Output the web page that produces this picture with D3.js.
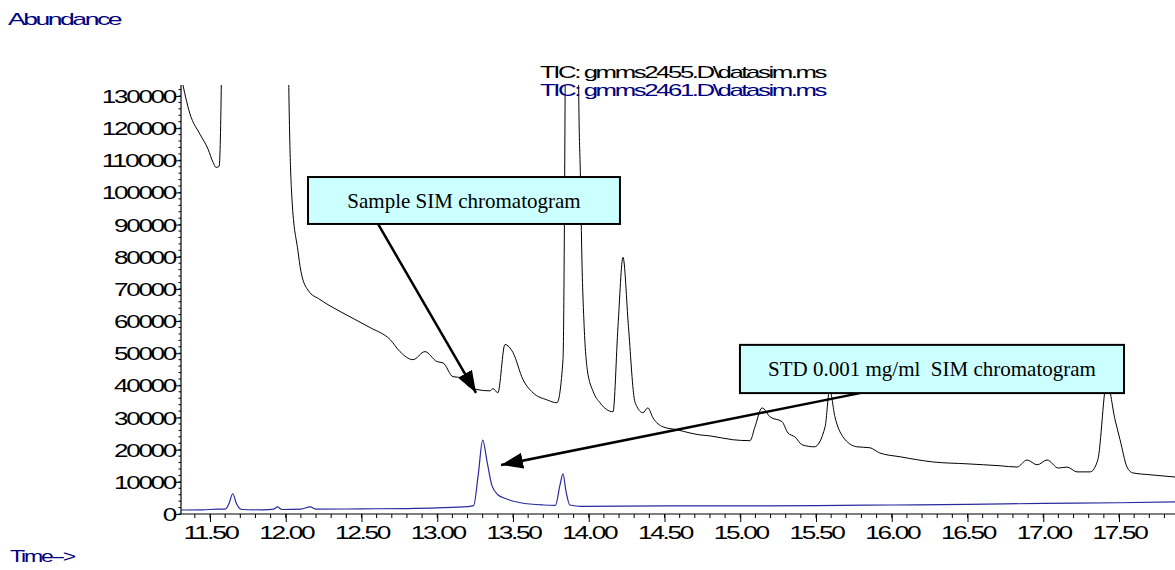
<!DOCTYPE html>
<html>
<head>
<meta charset="utf-8">
<script src="https://cdn.jsdelivr.net/npm/d3@7"></script>
<style>
  html, body { margin: 0; padding: 0; background: #fff; }
  svg { display: block; }
</style>
</head>
<body>
<svg id="chart" width="1175" height="570"></svg>
<script>
// ---------- data ----------
const xMajorTicks = [11.5, 12.0, 12.5, 13.0, 13.5, 14.0, 14.5, 15.0, 15.5, 16.0, 16.5, 17.0, 17.5];
const yMajorTicks = [0, 10000, 20000, 30000, 40000, 50000, 60000, 70000, 80000, 90000, 100000, 110000, 120000, 130000];
const legendLabels = ["TIC: gmms2455.D\\datasim.ms", "TIC: gmms2461.D\\datasim.ms"];

// sample TIC (black), [time (min), abundance]
const sampleSeries = [
  [11.31, 136000], [11.368, 124400], [11.434, 118100], [11.487, 113500], [11.52, 109400],
  [11.54, 107800], [11.56, 108100], [11.575, 135000], [11.59, 420000], [11.8, 900000],
  [12.0, 420000], [12.018, 140000], [12.041, 98000], [12.08, 82000],
  [12.1, 75500], [12.147, 69600], [12.226, 66700], [12.358, 63000], [12.556, 58000],
  [12.69, 54200], [12.754, 50500], [12.84, 48000], [12.919, 50500], [12.998, 47400],
  [13.038, 47000], [13.104, 42700], [13.163, 42400], [13.196, 40200], [13.262, 38700],
  [13.348, 38300], [13.368, 39000], [13.40, 37700], [13.447, 52700], [13.50, 50200],
  [13.566, 41800], [13.632, 37700], [13.724, 35500], [13.79, 34600], [13.83, 48000],
  [13.845, 140000], [13.865, 420000], [13.91, 420000], [13.934, 130000], [13.945, 105000],
  [13.955, 79000], [13.97, 58000], [13.99, 45000], [14.03, 38000], [14.074, 34600],
  [14.16, 31800], [14.193, 58300], [14.226, 79800], [14.262, 58300], [14.30, 36000],
  [14.318, 33400], [14.358, 31500], [14.39, 33000], [14.424, 29900], [14.49, 27100],
  [14.583, 26200], [14.668, 25200], [14.734, 24600], [14.80, 24300], [14.95, 23100],
  [15.064, 22800], [15.097, 27100], [15.144, 33000], [15.197, 30200], [15.276, 28700],
  [15.315, 25200], [15.36, 24000], [15.41, 21500], [15.49, 20900], [15.56, 27100],
  [15.59, 38650], [15.625, 30200], [15.678, 24000], [15.77, 20900], [15.856, 20600],
  [15.92, 19000], [16.055, 17800], [16.27, 16200], [16.497, 15600], [16.715, 15000],
  [16.827, 14600], [16.893, 16800], [16.96, 15300], [17.025, 16800], [17.10, 14300],
  [17.157, 14600], [17.223, 13100], [17.31, 13100], [17.36, 16800], [17.42, 41100],
  [17.474, 29300], [17.507, 23100], [17.553, 14600], [17.59, 12800], [17.705, 12200],
  [17.87, 11500]
];

// STD 0.001 mg/ml TIC (blue), [time (min), abundance]
const stdSeries = [
  [11.31, 1250], [11.45, 1300], [11.55, 1500], [11.60, 1500], [11.625, 3200],
  [11.65, 6300], [11.675, 3200], [11.71, 1400], [11.85, 1300], [11.92, 1500],
  [11.945, 2200], [11.975, 1400], [12.10, 1500], [12.16, 2200], [12.20, 1500],
  [12.50, 1600], [12.80, 1700], [13.00, 1900], [13.20, 2300], [13.24, 2600],
  [13.27, 12000], [13.30, 23000], [13.33, 16000], [13.36, 9000], [13.40, 6000],
  [13.45, 4800], [13.55, 3500], [13.70, 2800], [13.78, 2700], [13.81, 9000],
  [13.83, 12500], [13.85, 7000], [13.875, 2800], [13.95, 2400], [14.50, 2500],
  [15.00, 2500], [15.50, 2600], [16.00, 2800], [16.50, 3000], [17.00, 3300],
  [17.50, 3500], [17.87, 3800]
];

// annotations in data coordinates
const annotationBoxes = [
  { text: "Sample SIM chromatogram", t0: 12.147, t1: 14.206, v0: 90200, v1: 104800 },
  { text: "STD 0.001 mg/ml  SIM chromatogram", t0: 14.998, t1: 17.533, v0: 37600, v1: 52600 }
];
const annotationArrows = [
  { t0: 12.609, v0: 90200, t1: 13.256, v1: 37700 },
  { t0: 15.79, v0: 37600, t1: 13.421, v1: 15240 }
];

// ---------- layout ----------
const svg = d3.select("#chart");
const x = d3.scaleLinear().domain([11.5, 17.5]).range([210, 1119]);
const y = d3.scaleLinear().domain([0, 130000]).range([514, 96]);
const xLeft = 181, xRight = 1175, yTop = 85, yBase = 514;
const tMin = x.invert(xLeft), tMax = x.invert(xRight);

const navy = "#000080";
const labelFont = "'Liberation Sans', Arial, sans-serif";

// clip
svg.append("defs").append("clipPath").attr("id", "plotclip")
  .append("rect").attr("x", xLeft).attr("y", yTop).attr("width", xRight - xLeft).attr("height", yBase - yTop);

// arrow marker
svg.select("defs").append("marker")
  .attr("id", "arrowhead").attr("viewBox", "0 0 22 16")
  .attr("refX", 22).attr("refY", 8)
  .attr("markerWidth", 22).attr("markerHeight", 16)
  .attr("markerUnits", "userSpaceOnUse").attr("orient", "auto")
  .append("path").attr("d", "M0,0 L22,8 L0,16 Z").attr("fill", "#000");

// widths for condensed-looking labels
function labelWidth(s, digitW, dotW) {
  let w = 0;
  for (const c of s) w += (c === "." ? dotW : digitW);
  return w;
}
// squeezed, wide-glyph look of the original instrument font
function squeeze(sel, len) {
  sel.attr("letter-spacing", "-1.6px")
     .attr("textLength", len)
     .attr("lengthAdjust", "spacingAndGlyphs");
}

// ---------- axes ----------
const minorX = d3.range(113, 179).map(d => d / 10).filter(d => d >= tMin && d <= tMax);
const xg = svg.append("g");
xg.append("line").attr("x1", xLeft).attr("x2", xRight).attr("y1", yBase).attr("y2", yBase)
  .attr("stroke", "#000").attr("stroke-width", 1.2);
xg.selectAll("line.minor").data(minorX).enter().append("line").attr("class", "minor")
  .attr("x1", d => x(d)).attr("x2", d => x(d)).attr("y1", yBase).attr("y2", yBase + 4)
  .attr("stroke", "#000").attr("stroke-width", 1);

const xAxis = d3.axisBottom(x).tickValues(xMajorTicks).tickSize(8).tickPadding(4)
  .tickFormat(d3.format(".2f"));
const xAxisG = svg.append("g").attr("transform", `translate(0,${yBase})`).call(xAxis);
xAxisG.select(".domain").remove();
xAxisG.selectAll(".tick line").attr("stroke", "#000").attr("stroke-width", 1);
xAxisG.selectAll(".tick text")
  .attr("font-family", labelFont).attr("font-size", 18).attr("fill", "#000")
  .attr("dy", null).attr("y", 25)
  .call(squeeze, d => labelWidth(d3.format(".2f")(d), 12.0, 6));

// y axis
const minorY = d3.range(0, 134000, 2000);
const yg = svg.append("g");
yg.append("line").attr("x1", xLeft).attr("x2", xLeft).attr("y1", yTop).attr("y2", yBase)
  .attr("stroke", "#000").attr("stroke-width", 1.2);
yg.selectAll("line.minor").data(minorY.filter(v => y(v) >= yTop)).enter().append("line").attr("class", "minor")
  .attr("x1", xLeft - 2.5).attr("x2", xLeft).attr("y1", d => y(d)).attr("y2", d => y(d))
  .attr("stroke", "#000").attr("stroke-width", 1);

const yAxis = d3.axisLeft(y).tickValues(yMajorTicks).tickSize(5).tickPadding(1).tickFormat(d3.format("d"));
const yAxisG = svg.append("g").attr("transform", `translate(${xLeft},0)`).call(yAxis);
yAxisG.select(".domain").remove();
yAxisG.selectAll(".tick line").attr("stroke", "#000").attr("stroke-width", 1);
yAxisG.selectAll(".tick text")
  .attr("font-family", labelFont).attr("font-size", 18).attr("fill", "#000")
  .attr("dy", "0.36em")
  .call(squeeze, d => labelWidth(String(d), 12.2, 6));

// ---------- series ----------
const line = d3.line().x(d => x(d[0])).y(d => y(d[1])).curve(d3.curveMonotoneX);
const plot = svg.append("g").attr("clip-path", "url(#plotclip)");
plot.append("path").datum(stdSeries).attr("d", line)
  .attr("fill", "none").attr("stroke", "#2a2aa0").attr("stroke-width", 1.2);
plot.append("path").datum(sampleSeries).attr("d", line)
  .attr("fill", "none").attr("stroke", "#000").attr("stroke-width", 1);

// ---------- legend ----------
const legendColors = ["#000", navy];
svg.selectAll("text.legend").data(legendLabels).enter().append("text").attr("class", "legend")
  .attr("x", 540).attr("y", (d, i) => 78 + i * 18)
  .attr("font-family", labelFont).attr("font-size", 17)
  .attr("fill", (d, i) => legendColors[i])
  .text(d => d)
  .call(squeeze, 285);

// ---------- titles ----------
svg.append("text").attr("x", 8).attr("y", 25)
  .attr("font-family", labelFont).attr("font-size", 17).attr("fill", navy)
  .text("Abundance").call(squeeze, 112);
svg.append("text").attr("x", 10).attr("y", 562)
  .attr("font-family", labelFont).attr("font-size", 17).attr("fill", navy)
  .text("Time-->").call(squeeze, 64);

// ---------- annotations ----------
const ann = svg.append("g");
ann.selectAll("line.arrow").data(annotationArrows).enter().append("line").attr("class", "arrow")
  .attr("x1", d => x(d.t0)).attr("y1", d => y(d.v0))
  .attr("x2", d => x(d.t1)).attr("y2", d => y(d.v1))
  .attr("stroke", "#000").attr("stroke-width", 2.5)
  .attr("marker-end", "url(#arrowhead)");

const boxes = ann.selectAll("g.box").data(annotationBoxes).enter().append("g").attr("class", "box");
boxes.append("rect")
  .attr("x", d => x(d.t0)).attr("y", d => y(d.v1))
  .attr("width", d => x(d.t1) - x(d.t0)).attr("height", d => y(d.v0) - y(d.v1))
  .attr("fill", "#ccffff").attr("stroke", "#000").attr("stroke-width", 2);
boxes.append("text")
  .attr("x", d => (x(d.t0) + x(d.t1)) / 2)
  .attr("y", d => (y(d.v0) + y(d.v1)) / 2 + 7)
  .attr("text-anchor", "middle")
  .attr("font-family", "'Liberation Serif', 'Times New Roman', serif")
  .attr("font-size", 21).attr("fill", "#000")
  .style("white-space", "pre")
  .text(d => d.text);
</script>
</body>
</html>
